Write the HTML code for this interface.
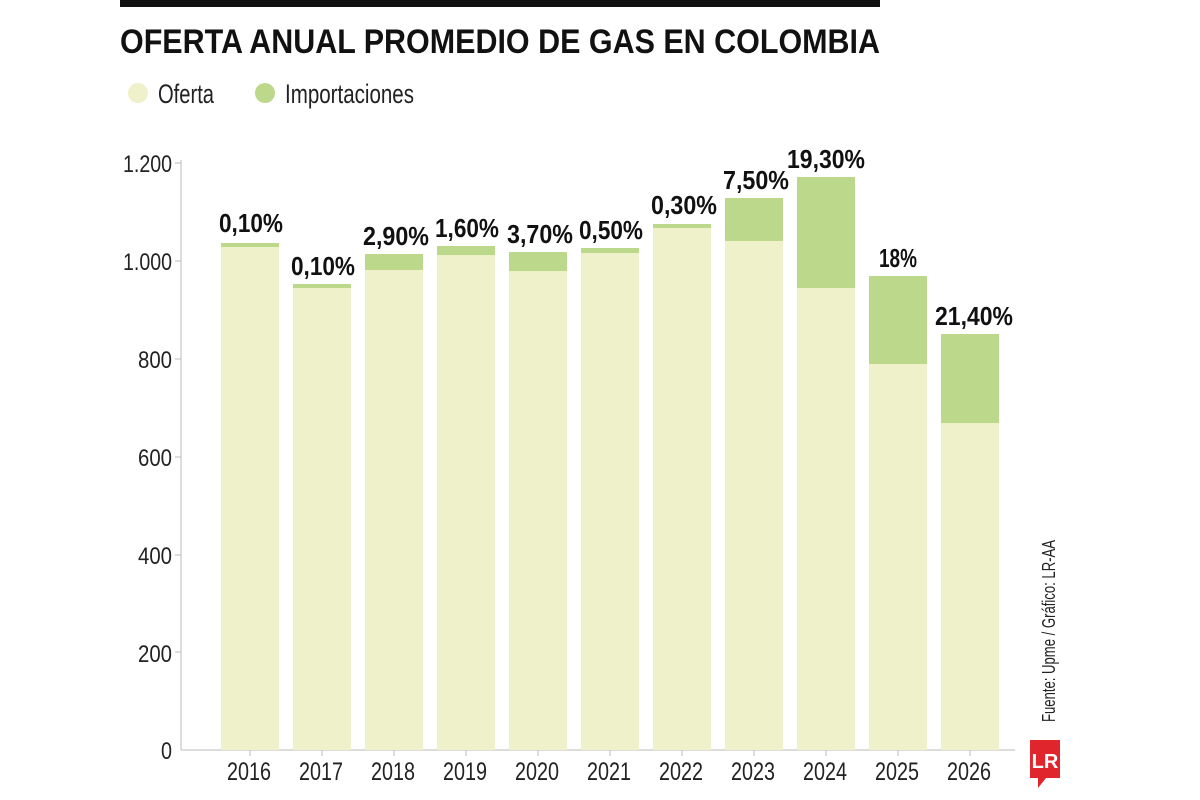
<!DOCTYPE html><html><head><style>body{margin:0;background:#fff}svg{display:block}text{font-family:"Liberation Sans Narrow","Liberation Sans",sans-serif}</style></head><body>
<svg width="1200" height="800" viewBox="0 0 1200 800">
<rect x="120" y="0" width="760" height="7" fill="#111"/>
<text x="120" y="53" font-size="34" font-weight="bold" textLength="760" lengthAdjust="spacingAndGlyphs" fill="#111">OFERTA ANUAL PROMEDIO DE GAS EN COLOMBIA</text>
<circle cx="138" cy="93" r="10" fill="#eef1c9"/><text x="158" y="103" font-size="27" textLength="56" lengthAdjust="spacingAndGlyphs" fill="#222">Oferta</text>
<circle cx="265" cy="93" r="10" fill="#bcd88a"/><text x="285" y="103" font-size="27" textLength="129" lengthAdjust="spacingAndGlyphs" fill="#222">Importaciones</text>
<g font-size="24" fill="#222" lengthAdjust="spacingAndGlyphs">
<text x="123" y="172" textLength="49" lengthAdjust="spacingAndGlyphs">1.200</text>
<text x="123" y="270" textLength="49" lengthAdjust="spacingAndGlyphs">1.000</text>
<text x="138" y="368" textLength="34" lengthAdjust="spacingAndGlyphs">800</text>
<text x="138" y="466" textLength="34" lengthAdjust="spacingAndGlyphs">600</text>
<text x="138" y="564" textLength="34" lengthAdjust="spacingAndGlyphs">400</text>
<text x="138" y="662" textLength="34" lengthAdjust="spacingAndGlyphs">200</text>
<text x="161" y="759" textLength="11" lengthAdjust="spacingAndGlyphs">0</text></g>
<g stroke="#bbb" stroke-width="1"><line x1="181" y1="160" x2="181" y2="750"/><line x1="181" y1="750" x2="1015" y2="750"/>
<line x1="175" y1="163" x2="181" y2="163"/><line x1="175" y1="261" x2="181" y2="261"/><line x1="175" y1="359" x2="181" y2="359"/><line x1="175" y1="457" x2="181" y2="457"/><line x1="175" y1="555" x2="181" y2="555"/><line x1="175" y1="652" x2="181" y2="652"/></g>

<g fill="#eef1c9">
<rect x="221" y="247" width="58" height="503"/>
<rect x="293" y="288" width="58" height="462"/>
<rect x="365" y="270" width="58" height="480"/>
<rect x="437" y="255" width="58" height="495"/>
<rect x="509" y="271" width="58" height="479"/>
<rect x="581" y="253" width="58" height="497"/>
<rect x="653" y="228" width="58" height="522"/>
<rect x="725" y="241" width="58" height="509"/>
<rect x="797" y="288" width="58" height="462"/>
<rect x="869" y="364" width="58" height="386"/>
<rect x="941" y="423" width="58" height="327"/>
</g>
<g fill="#bcd88a">
<rect x="221" y="243" width="58" height="4"/>
<rect x="293" y="284" width="58" height="4"/>
<rect x="365" y="254" width="58" height="16"/>
<rect x="437" y="246" width="58" height="9"/>
<rect x="509" y="252" width="58" height="19"/>
<rect x="581" y="248" width="58" height="5"/>
<rect x="653" y="224" width="58" height="4"/>
<rect x="725" y="198" width="58" height="43"/>
<rect x="797" y="177" width="58" height="111"/>
<rect x="869" y="276" width="58" height="88"/>
<rect x="941" y="334" width="58" height="89"/>
</g>
<g font-size="26" font-weight="bold" fill="#111">
<text x="219" y="232" textLength="64" lengthAdjust="spacingAndGlyphs">0,10%</text>
<text x="291" y="275" textLength="64" lengthAdjust="spacingAndGlyphs">0,10%</text>
<text x="363" y="245" textLength="66" lengthAdjust="spacingAndGlyphs">2,90%</text>
<text x="435" y="237" textLength="64" lengthAdjust="spacingAndGlyphs">1,60%</text>
<text x="507" y="243" textLength="66" lengthAdjust="spacingAndGlyphs">3,70%</text>
<text x="579" y="239" textLength="64" lengthAdjust="spacingAndGlyphs">0,50%</text>
<text x="651" y="214" textLength="66" lengthAdjust="spacingAndGlyphs">0,30%</text>
<text x="723" y="189" textLength="66" lengthAdjust="spacingAndGlyphs">7,50%</text>
<text x="787" y="168" textLength="78" lengthAdjust="spacingAndGlyphs">19,30%</text>
<text x="879" y="267" textLength="38" lengthAdjust="spacingAndGlyphs">18%</text>
<text x="935" y="325" textLength="78" lengthAdjust="spacingAndGlyphs">21,40%</text>
</g>
<g font-size="25" fill="#222">
<text x="227" y="780" textLength="44" lengthAdjust="spacingAndGlyphs">2016</text>
<text x="299" y="780" textLength="44" lengthAdjust="spacingAndGlyphs">2017</text>
<text x="371" y="780" textLength="44" lengthAdjust="spacingAndGlyphs">2018</text>
<text x="443" y="780" textLength="44" lengthAdjust="spacingAndGlyphs">2019</text>
<text x="515" y="780" textLength="44" lengthAdjust="spacingAndGlyphs">2020</text>
<text x="587" y="780" textLength="44" lengthAdjust="spacingAndGlyphs">2021</text>
<text x="659" y="780" textLength="44" lengthAdjust="spacingAndGlyphs">2022</text>
<text x="731" y="780" textLength="44" lengthAdjust="spacingAndGlyphs">2023</text>
<text x="803" y="780" textLength="44" lengthAdjust="spacingAndGlyphs">2024</text>
<text x="875" y="780" textLength="44" lengthAdjust="spacingAndGlyphs">2025</text>
<text x="947" y="780" textLength="44" lengthAdjust="spacingAndGlyphs">2026</text>
</g>
<g stroke="#bbb"><line x1="250" y1="750" x2="250" y2="756"/><line x1="322" y1="750" x2="322" y2="756"/><line x1="394" y1="750" x2="394" y2="756"/><line x1="466" y1="750" x2="466" y2="756"/><line x1="538" y1="750" x2="538" y2="756"/><line x1="610" y1="750" x2="610" y2="756"/><line x1="682" y1="750" x2="682" y2="756"/><line x1="754" y1="750" x2="754" y2="756"/><line x1="826" y1="750" x2="826" y2="756"/><line x1="898" y1="750" x2="898" y2="756"/><line x1="970" y1="750" x2="970" y2="756"/></g>
<text transform="translate(1055,722) rotate(-90)" font-size="18" fill="#222" textLength="182" lengthAdjust="spacingAndGlyphs">Fuente: Upme / Gráfico: LR-AA</text>
<path d="M1030 740 h30 v38 h-14 l-8 10 v-10 h-8 z" fill="#e0262c"/>
<text x="1045" y="768" font-size="20" font-weight="bold" fill="#fff" text-anchor="middle" font-family="Liberation Serif,serif">LR</text>
</svg></body></html>
